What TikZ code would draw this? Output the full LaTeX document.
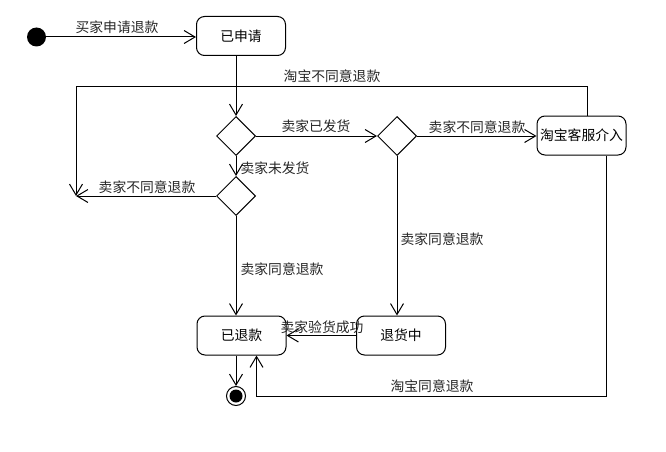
\documentclass[tikz,border=0pt]{standalone}
\usepackage{fontspec}
\setmainfont{Noto Sans CJK SC}
\usetikzlibrary{arrows.meta,shapes.geometric}
\tikzset{
  state/.style={draw,rounded corners=8pt,minimum width=89pt,minimum height=39pt,inner sep=0pt,line width=1pt},
  choice/.style={draw,diamond,minimum width=39pt,minimum height=39pt,inner sep=0pt,line width=1pt},
  arr/.style={line width=1pt,-{Straight Barb[length=11pt,width=13pt,line width=1pt]}},
  plain/.style={line width=1pt},
  lbl/.style={inner sep=0pt,font=\fontsize{13.8}{15}\selectfont,text=black!85},
}
\begin{document}
\begin{tikzpicture}[x=1pt,y=-1pt,every node/.style={font=\fontsize{13.8}{15}\selectfont}]
\useasboundingbox (0,0) rectangle (666,452);
\node[circle,fill=black,minimum size=19pt,inner sep=0pt] (start) at (36.5,37) {};
\node[state] (req) at (241,36) {已申请};
\node[choice] (d1) at (236,136) {};
\node[choice] (d2) at (397,136) {};
\node[choice] (d3) at (236,196) {};
\node[state] (cs) at (581.5,135.5) {淘宝客服介入};
\node[state] (ref) at (241.5,335.5) {已退款};
\node[state] (ret) at (401,335.5) {退货中};
\node[circle,draw,line width=1pt,minimum size=19pt,inner sep=0pt] (endst) at (236,396) {};
\fill (endst) circle (6.5pt);
\coordinate (j) at (76,196);
\coordinate (t1) at (587,86);
\coordinate (t2) at (76,86);
\coordinate (b1) at (606.5,396);
\coordinate (b2) at (256.5,396);

\draw[arr] (start) -- (start -| req.west);
\draw[arr] (req.south -| d1) -- (d1.north);
\draw[arr] (d1.east) -- (d2.west);
\draw[arr] (d2.east) -- (d2 -| cs.west);
\draw[arr] (d1.south) -- (d3.north);
\draw[arr] (d3.west) -- (j);
\draw[arr] (cs.north -| t1) -- (t1) -- (t2) -- (j);
\draw[arr] (d3.south) -- (d3.south |- ref.north);
\draw[arr] (d2.south) -- (d2.south |- ret.north);
\draw[arr] (ret.west) -- (ref.east);
\draw[arr] (cs.south -| b1) -- (b1) -- (b2) -- (b2 |- ref.south);
\draw[arr] (ref.south -| endst) -- (endst.north);

\node[lbl] (l1) at (117,27) {买家申请退款};
\node[lbl] (l2) at (332,76) {淘宝不同意退款};
\node[lbl] (l3) at (316,126) {卖家已发货};
\node[lbl] (l4) at (477,127) {卖家不同意退款};
\node[lbl] (l5) at (275,168) {卖家未发货};
\node[lbl] (l6) at (147,187) {卖家不同意退款};
\node[lbl] (l7) at (442,239) {卖家同意退款};
\node[lbl] (l8) at (282,269) {卖家同意退款};
\node[lbl] (l9) at (322,327) {卖家验货成功};
\node[lbl] (l10) at (432,386) {淘宝同意退款};
\end{tikzpicture}
\end{document}
